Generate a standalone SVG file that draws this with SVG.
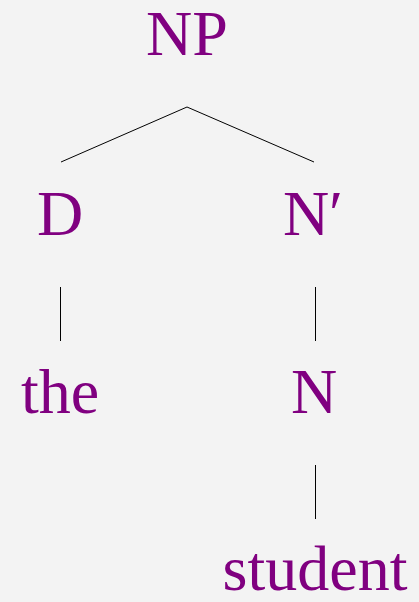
<svg xmlns="http://www.w3.org/2000/svg" width="419" height="602" viewBox="0 0 419 602">
<style>
.lbl{font-family:"Liberation Serif","Times New Roman",serif;font-size:64px;fill:#800080;text-anchor:middle}
.edge{stroke:#000;stroke-width:1;fill:none}
</style>
<rect width="419" height="602" fill="#f3f3f3"/>
<g id="connectors">
<line class="edge" x1="187" y1="107" x2="61" y2="162"/>
<line class="edge" x1="187" y1="107" x2="314" y2="162"/>
<line class="edge" x1="60.5" y1="287" x2="60.5" y2="341"/>
<line class="edge" x1="315.5" y1="287" x2="315.5" y2="341"/>
<line class="edge" x1="315.5" y1="465" x2="315.5" y2="519"/>
</g>
<g id="NP"><text class="lbl" x="187" y="55">NP</text></g>
<g id="D"><text class="lbl" x="60" y="235">D</text></g>
<g id="Nbar"><text class="lbl" x="313" y="235">N′</text></g>
<g id="the"><text class="lbl" x="60" y="413">the</text></g>
<g id="N"><text class="lbl" x="314" y="413">N</text></g>
<g id="student"><text class="lbl" x="315" y="590">student</text></g>
</svg>
